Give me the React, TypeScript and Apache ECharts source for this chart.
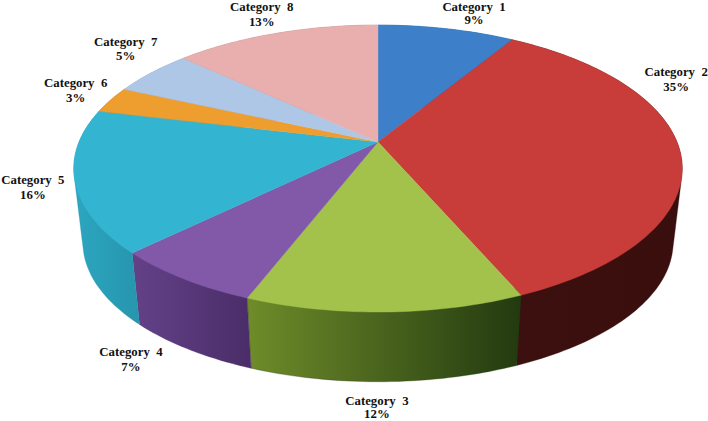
import React, { useEffect, useRef } from "react";
import * as echarts from "echarts";

const categories = ["Category  1", "Category  2", "Category  3", "Category  4", "Category  5", "Category  6", "Category  7", "Category  8"];
const shares = [8.7, 34.8, 12.4, 6.8, 16.0, 3.0, 5.2, 13.1];
const topColors = ["#3D7FC8", "#C83D3A", "#A3C24B", "#8258A8", "#33B4D1", "#EE9E2E", "#AEC7E7", "#E9AFAE"];
const wallColors: [string, string][] = [
  ["#2A5A90", "#2A5A90"],
  ["#3C100E", "#3A0E0C"],
  ["#6F8C2A", "#223A10"],
  ["#644188", "#4A2D68"],
  ["#2CA6C0", "#2795AE"],
  ["#A06A1E", "#A06A1E"],
  ["#7F93AC", "#7F93AC"],
  ["#A87E7D", "#A87E7D"],
];
// where each label sits relative to its slice's rim midpoint
const labelOffsets = [[27.5, -15.5], [-4, -72], [-8, 95.5], [-52, 81], [-42, 6.5], [-35, -9.5], [-26, -23.5], [-14, -19]];
// the labels at the page's top and bottom edges are set tighter so they stay on the page
const labelLineHeights = [13, 14.5, 13, 14.5, 14.5, 14.5, 14.5, 14.5];

// perspective projection of the pie's disc onto the page
const CX = 378, CY = 142, A = 299, B = 138.6, P = 0.185;
const SHRINK = 0.97, BASE_CY = 216.8;
const total = shares.reduce((a, b) => a + b, 0);
const startOf = (i: number) => shares.slice(0, i).reduce((a, b) => a + b, 0);

type Pt = [number, number];
function project(share: number, base = false): Pt {
  const t = (share / total) * Math.PI * 2;
  const u = Math.sin(t), v = -Math.cos(t), w = 1 - P * v;
  const k = base ? SHRINK : 1;
  return [CX + (k * A * u) / w, (base ? BASE_CY : CY) + (k * B * v) / w];
}
function arc(from: number, to: number, base = false) {
  const n = Math.max(2, Math.ceil((to - from) * 3));
  const pts: Pt[] = [];
  for (let i = 0; i <= n; i++) pts.push(project(from + ((to - from) * i) / n, base));
  return pts;
}
// the wall is what the rim sweeps on its way down: the hull of its top and base arcs
function hull(input: Pt[]) {
  const pts = [...input].sort((a, b) => a[0] - b[0] || a[1] - b[1]);
  const cross = (o: Pt, a: Pt, b: Pt) => (a[0] - o[0]) * (b[1] - o[1]) - (a[1] - o[1]) * (b[0] - o[0]);
  const half = (list: Pt[]) => {
    const out: Pt[] = [];
    for (const p of list) {
      while (out.length >= 2 && cross(out[out.length - 2], out[out.length - 1], p) <= 0) out.pop();
      out.push(p);
    }
    out.pop();
    return out;
  };
  return [...half(pts), ...half([...pts].reverse())];
}

export default function App() {
  const ref = useRef<HTMLDivElement>(null);
  useEffect(() => {
    const chart = echarts.init(ref.current!, undefined, { renderer: "svg" });
    const data = shares.map((v) => [v]);
    chart.setOption({
      animation: false,
      backgroundColor: "#fff",
      series: [
        {
          type: "custom",
          coordinateSystem: "none",
          silent: true,
          z: 1,
          data,
          renderItem: (params: any, api: any) => {
            const i = params.dataIndex;
            const s = startOf(i), e = s + api.value(0);
            const points = hull([...arc(s, e), ...arc(s, e, true)]);
            const fill = new echarts.graphic.LinearGradient(0, 0, 1, 0, [
              { offset: 0, color: wallColors[i][0] },
              { offset: 1, color: wallColors[i][1] },
            ]);
            return { type: "polygon", shape: { points }, style: { fill, stroke: wallColors[i][1], lineWidth: 0.3 } };
          },
        },
        {
          type: "custom",
          coordinateSystem: "none",
          silent: true,
          z: 2,
          data,
          renderItem: (params: any, api: any) => {
            const i = params.dataIndex;
            const s = startOf(i), e = s + api.value(0);
            const mid = project((s + e) / 2);
            return {
              type: "group",
              children: [
                {
                  type: "polygon",
                  shape: { points: [[CX, CY], ...arc(s, e)] },
                  style: { fill: topColors[i], stroke: topColors[i], lineWidth: 0.4 },
                },
                {
                  type: "text",
                  x: mid[0] + labelOffsets[i][0],
                  y: mid[1] + labelOffsets[i][1],
                  style: {
                    text: `${categories[i]}\n${Math.round(api.value(0))}%`,
                    font: 'bold 12.8px "Liberation Serif"',
                    lineHeight: labelLineHeights[i],
                    fill: "#111",
                    align: "center",
                    verticalAlign: "middle",
                  },
                },
              ],
            };
          },
        },
      ],
    });
    return () => chart.dispose();
  }, []);
  return <div ref={ref} style={{ position: "absolute", left: 0, top: 0, width: 708, height: 421 }} />;
}
